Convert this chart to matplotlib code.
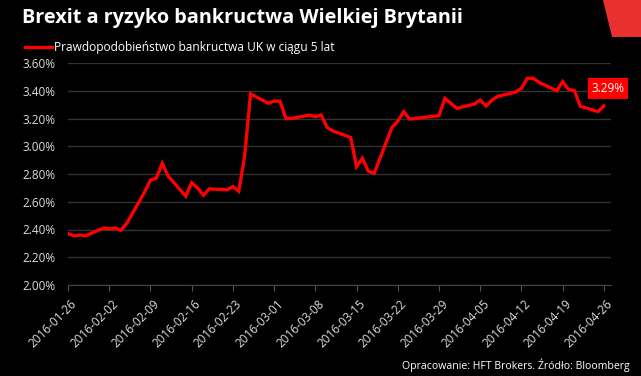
import numpy as np
import pandas as pd
import matplotlib
matplotlib.use("Agg")
import matplotlib.pyplot as plt
import matplotlib.transforms as mtransforms
from matplotlib.patches import Polygon

# Data
dates = [
    "2016-01-26", "2016-01-27", "2016-01-28", "2016-01-29",
    "2016-02-01", "2016-02-02", "2016-02-03", "2016-02-04", "2016-02-05",
    "2016-02-08", "2016-02-09", "2016-02-10", "2016-02-11", "2016-02-12",
    "2016-02-15", "2016-02-16", "2016-02-17", "2016-02-18", "2016-02-19",
    "2016-02-22", "2016-02-23", "2016-02-24", "2016-02-25", "2016-02-26",
    "2016-02-29", "2016-03-01", "2016-03-02", "2016-03-03", "2016-03-04",
    "2016-03-07", "2016-03-08", "2016-03-09", "2016-03-10", "2016-03-11",
    "2016-03-14", "2016-03-15", "2016-03-16", "2016-03-17", "2016-03-18",
    "2016-03-21", "2016-03-22", "2016-03-23", "2016-03-24",
    "2016-03-29", "2016-03-30", "2016-03-31", "2016-04-01",
    "2016-04-04", "2016-04-05", "2016-04-06", "2016-04-07", "2016-04-08",
    "2016-04-11", "2016-04-12", "2016-04-13", "2016-04-14", "2016-04-15",
    "2016-04-18", "2016-04-19", "2016-04-20", "2016-04-21", "2016-04-22",
    "2016-04-25", "2016-04-26",
]
default_prob = [
    2.37, 2.355, 2.36, 2.355,
    2.41, 2.405, 2.41, 2.395, 2.445,
    2.67, 2.755, 2.77, 2.877, 2.785,
    2.64, 2.737, 2.70, 2.647, 2.693,
    2.686, 2.71, 2.676, 2.93, 3.377,
    3.31, 3.326, 3.324, 3.20, 3.20,
    3.225, 3.213, 3.225, 3.135, 3.11,
    3.063, 2.853, 2.913, 2.82, 2.805,
    3.135, 3.18, 3.25, 3.196,
    3.22, 3.345, 3.31, 3.273,
    3.304, 3.333, 3.29, 3.333, 3.36,
    3.39, 3.418, 3.49, 3.49, 3.46,
    3.40, 3.466, 3.41, 3.40, 3.288,
    3.25, 3.29,
]
y_ticks = [2.0, 2.2, 2.4, 2.6, 2.8, 3.0, 3.2, 3.4, 3.6]

title = "Brexit a ryzyko bankructwa Wielkiej Brytanii"
series_label = "Prawdopodobieństwo bankructwa UK w ciągu 5 lat"
footer = "Opracowanie: HFT Brokers. Źródło: Bloomberg"

plt.rcParams['font.family'] = ['Open Sans', 'DejaVu Sans']

x = pd.to_datetime(dates)
y = np.array(default_prob)

fig = plt.figure(figsize=(6.41, 3.76), dpi=100, facecolor='black')
ax = fig.add_axes([68 / 641, 1 - 285 / 376, (611 - 68) / 641, (285 - 63) / 376])
ax.set_facecolor('black')

ax.plot(x, y, color='#ff0000', linewidth=2.4, solid_joinstyle='miter', zorder=3)

# axes and grid
ax.set_ylim(2.0, 3.6)
ax.set_yticks(y_ticks)
ax.set_yticklabels([f"{v:.2f}%" for v in y_ticks])
ax.set_xlim(pd.Timestamp("2016-01-26"), pd.Timestamp("2016-04-27 05:00"))
xt = pd.date_range("2016-01-26", "2016-04-26", freq="7D")
ax.set_xticks(xt)
ax.set_xticklabels([d.strftime("%Y-%m-%d") for d in xt], rotation=45,
                   ha='right', va='center', rotation_mode='anchor')
ax.grid(axis='y', color='#333333', linewidth=1)
ax.set_axisbelow(True)
for side in ['top', 'right', 'left']:
    ax.spines[side].set_visible(False)
ax.spines['bottom'].set_color('#444444')
ax.tick_params(axis='x', colors='#dddddd', labelsize=8.5, length=4,
               color='#555555', pad=8)
ax.tick_params(axis='y', colors='#dddddd', labelsize=8.5, length=0, pad=9)

# nudge rotated date labels to the right like the original
shift = mtransforms.ScaledTranslation(7 / 100, 0, fig.dpi_scale_trans)
for lbl in ax.get_xticklabels():
    lbl.set_transform(lbl.get_transform() + shift)

# last value label
ax.annotate(f"{y[-1]:.2f}%", xy=(x[-1], y[-1]), xytext=(3, 12.5),
            textcoords='offset points', ha='center', va='center',
            color='white', fontsize=8.5,
            bbox=dict(boxstyle='square,pad=0.32', fc='#ff0000', ec='none'))

# title, legend, footer
fig.text(22 / 641, 1 - 18 / 376, title, color='white', fontsize=14.3,
         fontweight='bold', ha='left', va='center')
fig.add_artist(plt.Line2D([25 / 641, 52 / 641], [1 - 47 / 376, 1 - 47 / 376],
                          color='#ff0000', linewidth=2.4))
fig.text(54 / 641, 1 - 47 / 376, series_label, color='white', fontsize=8.6,
         ha='left', va='center')
fig.text(630 / 641, 1 - 365 / 376, footer, color='white', fontsize=7.6,
         ha='right', va='center')

# red corner mark
fig.add_artist(Polygon([(603 / 641, 1), (1, 1), (1, 1 - 37 / 376),
                        (612 / 641, 1 - 37 / 376)], closed=True,
                       transform=fig.transFigure, color='#e8302f', lw=0))

fig.savefig("out.png", dpi=100, facecolor='black')
